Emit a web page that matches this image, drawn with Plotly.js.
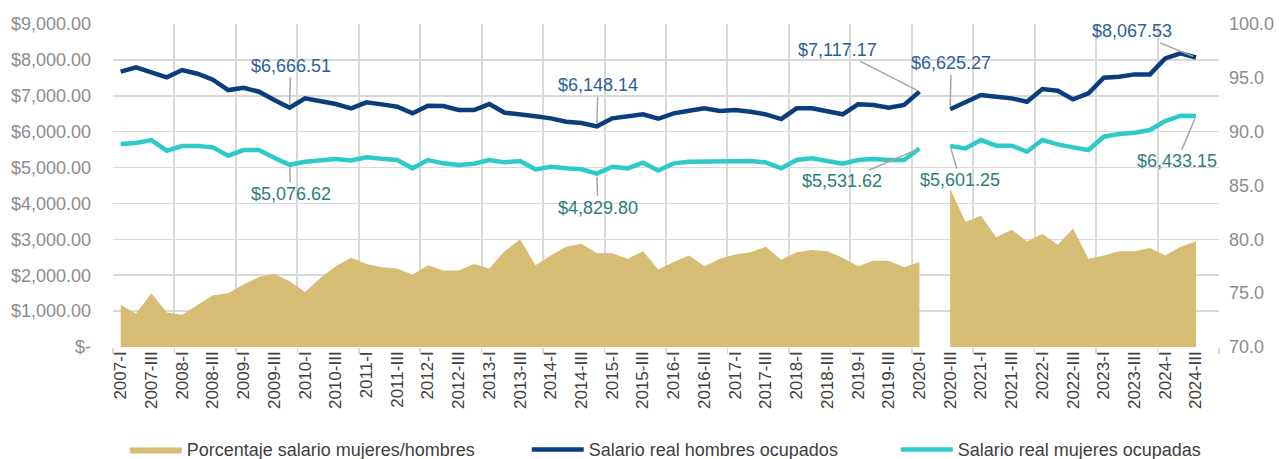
<!DOCTYPE html>
<html>
<head>
<meta charset="utf-8">
<script src="https://cdn.plot.ly/plotly-3.0.1.min.js"></script>
<style>html,body{margin:0;padding:0;background:#fff;}#chart{width:1279px;height:459px;}</style>
</head>
<body>
<div id="chart"></div>
<script>
// ---- DATA ----
const quarters = [
  "2007-I","2007-II","2007-III","2007-IV","2008-I","2008-II","2008-III","2008-IV",
  "2009-I","2009-II","2009-III","2009-IV","2010-I","2010-II","2010-III","2010-IV",
  "2011-I","2011-II","2011-III","2011-IV","2012-I","2012-II","2012-III","2012-IV",
  "2013-I","2013-II","2013-III","2013-IV","2014-I","2014-II","2014-III","2014-IV",
  "2015-I","2015-II","2015-III","2015-IV","2016-I","2016-II","2016-III","2016-IV",
  "2017-I","2017-II","2017-III","2017-IV","2018-I","2018-II","2018-III","2018-IV",
  "2019-I","2019-II","2019-III","2019-IV","2020-I","2020-II","2020-III","2020-IV",
  "2021-I","2021-II","2021-III","2021-IV","2022-I","2022-II","2022-III","2022-IV",
  "2023-I","2023-II","2023-III","2023-IV","2024-I","2024-II","2024-III"
];
// the axis keeps one empty slot after the last quarter
const axisSlots = quarters.length + 1;

const salarioHombres = [
  7671,7792,7653,7513,7717,7615,7447,7160,
  7225,7113,6882,6666.51,6928,6854,6770,6650,
  6817,6761,6696,6510,6724,6715,6603,6603,
  6770,6528,6464,6427,6371,6278,6241,6148.14,
  6371,6418,6483,6360,6510,6584,6650,6575,
  6603,6556,6483,6352,6650,6650,6556,6483,
  6761,6743,6668,6743,7117.17,null,6625.27,6817,
  7021,6974,6928,6835,7188,7141,6900,7067,
  7503,7531,7596,7596,8042,8182,8067.53
];

const salarioMujeres = [
  5656,5683,5767,5470,5600,5600,5563,5330,
  5488,5488,5275,5076.62,5163,5200,5238,5200,
  5284,5247,5210,4978,5210,5117,5070,5108,
  5210,5145,5182,4950,5024,4978,4950,4829.80,
  5024,4978,5136,4920,5117,5163,5163,5163,
  5182,5182,5145,4978,5210,5256,5182,5108,
  5210,5238,5210,5210,5531.62,null,5601.25,5535,
  5767,5609,5609,5442,5767,5646,5563,5488,
  5860,5934,5971,6046,6296,6445,6433.15
];

const porcentajeMH = [
  73.9,73.1,75.0,73.2,73.0,73.9,74.8,75.0,
  75.8,76.5,76.8,76.1,75.1,76.4,77.5,78.3,
  77.7,77.4,77.3,76.7,77.6,77.1,77.1,77.7,
  77.3,78.9,80.0,77.6,78.5,79.3,79.6,78.7,
  78.7,78.2,78.9,77.2,77.9,78.5,77.5,78.2,
  78.6,78.8,79.3,78.1,78.8,79.0,78.9,78.3,
  77.5,78.0,78.0,77.4,77.9,null,84.7,81.6,
  82.2,80.2,80.9,79.8,80.5,79.5,81.0,78.2,
  78.5,78.9,78.9,79.2,78.5,79.3,79.8
];

const xTickLabels = quarters.filter((q, i) => i % 2 === 0);
const leftTickVals = [0,1000,2000,3000,4000,5000,6000,7000,8000,9000];
const leftTickText = ["$-","$1,000.00","$2,000.00","$3,000.00","$4,000.00","$5,000.00","$6,000.00","$7,000.00","$8,000.00","$9,000.00"];
const rightTickVals = [70,75,80,85,90,95,100];

const seriesNames = ["Porcentaje salario mujeres/hombres","Salario real hombres ocupados","Salario real mujeres ocupadas"];

// labelled points
const labelled = [
  {q:"2009-IV", s:"h", ax:1, ay:-42},
  {q:"2009-IV", s:"m", ax:1, ay:29},
  {q:"2014-IV", s:"h", ax:1, ay:-41},
  {q:"2014-IV", s:"m", ax:1, ay:34},
  {q:"2020-I", s:"h", ax:-82, ay:-42},
  {q:"2020-I", s:"m", ax:-77, ay:33},
  {q:"2020-III", s:"h", ax:1, ay:-46},
  {q:"2020-III", s:"m", ax:10, ay:34},
  {q:"2024-III", s:"h", ax:-64, ay:-26},
  {q:"2024-III", s:"m", ax:-19, ay:45}
];

// ---- STYLE ----
const cNavy = "#0B3C7C", cCyan = "#2ECACA", cGold = "#D6BD73";
const cGrid = "#D9D9D9", cAxisTxt = "#8C8C8C";
const FONT = "Liberation Sans, Arial, sans-serif";

function fmtMoney(v){
  return "$" + v.toLocaleString("en-US",{minimumFractionDigits:2, maximumFractionDigits:2});
}

// quarters are placed at their position index on the x axis; labels come from `quarters`
const xPos = quarters.map((q, i) => i);
const xTickPos = xTickLabels.map(q => quarters.indexOf(q));

// split the area at the missing quarter so the fill does not bridge the gap
const gapIdx = porcentajeMH.indexOf(null);

const traces = [
  {x: xPos.slice(0, gapIdx), y: porcentajeMH.slice(0, gapIdx), name: seriesNames[0], type:"scatter", mode:"lines",
   fill:"tozeroy", fillcolor:cGold, line:{color:cGold, width:0}, yaxis:"y2", legendgroup:"a", legendwidth:335},
  {x: xPos.slice(gapIdx + 1), y: porcentajeMH.slice(gapIdx + 1), name: seriesNames[0], type:"scatter", mode:"lines",
   fill:"tozeroy", fillcolor:cGold, line:{color:cGold, width:0}, yaxis:"y2", legendgroup:"a", showlegend:false},
  {x: xPos, y: salarioHombres, name: seriesNames[1], type:"scatter", mode:"lines",
   line:{color:cNavy, width:4.5}, connectgaps:false, legendwidth:302},
  {x: xPos, y: salarioMujeres, name: seriesNames[2], type:"scatter", mode:"lines",
   line:{color:cCyan, width:4.5}, connectgaps:false, legendwidth:260}
];

// year boundaries: between categories, every 4 quarters
const yearBounds = [];
for (let k = 0; k <= axisSlots; k += 4) yearBounds.push(k - 0.5);

const annotations = labelled.map(l => {
  const i = quarters.indexOf(l.q);
  const v = l.s === "h" ? salarioHombres[i] : salarioMujeres[i];
  return {x: i, y: v, xref:"x", yref:"y", text: fmtMoney(v), showarrow:true, arrowhead:0,
    arrowwidth:1.5, arrowcolor:"#A6A6A6", ax:l.ax, ay:l.ay, standoff:3,
    font:{family:FONT, size:18, color: l.s === "h" ? "#2C5E98" : "#2B7E7A"}};
});

const layout = {
  width:1279, height:459,
  margin:{l:113, r:60, t:24, b:112, autoexpand:false},
  paper_bgcolor:"#fff", plot_bgcolor:"rgba(0,0,0,0)",
  font:{family:FONT},
  showlegend:true,
  legend:{orientation:"h", x:0.507, xanchor:"center", y:-0.318, yanchor:"middle",
    font:{family:FONT, size:18, color:"#404040"}, itemwidth:52, traceorder:"normal"},
  xaxis:{type:"linear", range:[-0.5, axisSlots - 0.5],
    tickmode:"array", tickvals:xTickPos, ticktext:xTickLabels,
    tickangle:-90, showgrid:false, zeroline:false, showline:false, ticks:"",
    tickfont:{family:FONT, size:17, color:"#404040"},
    minor:{tickmode:"array", tickvals:yearBounds, showgrid:true, gridcolor:cGrid, gridwidth:2,
      ticks:"outside", ticklen:6, tickwidth:1.5, tickcolor:cGrid}},
  yaxis:{range:[0,9000], tickmode:"array", tickvals:leftTickVals, ticktext:leftTickText,
    showgrid:true, gridcolor:cGrid, gridwidth:1.5, zeroline:false, showline:false, ticks:"",
    ticklabelstandoff:21, tickfont:{family:FONT, size:18, color:cAxisTxt}},
  yaxis2:{overlaying:"y", side:"right", range:[70,100], tickmode:"array", tickvals:rightTickVals,
    tickformat:".1f", showgrid:false, zeroline:false, showline:false, ticks:"",
    ticklabelstandoff:9, tickfont:{family:FONT, size:18, color:cAxisTxt}},
  annotations: annotations
};

Plotly.newPlot("chart", traces, layout, {displayModeBar:false, staticPlot:true});
</script>
</body>
</html>
